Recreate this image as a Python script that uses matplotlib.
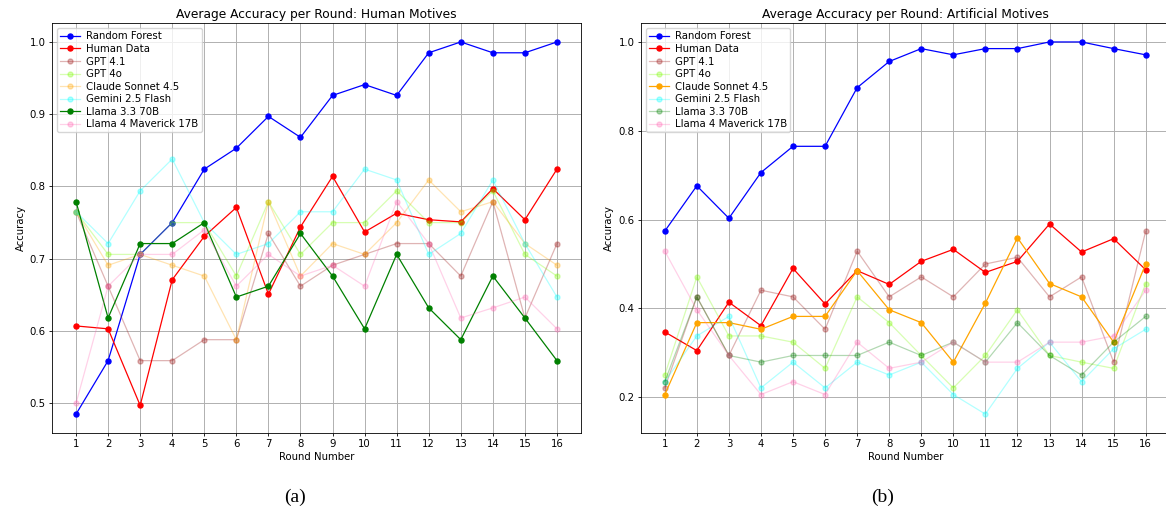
import matplotlib
matplotlib.use("Agg")

import matplotlib.pyplot as plt


# =====================================================
# DATA
# =====================================================

rounds = list(range(1, 17))

model_names = [
    "Random Forest",
    "Human Data",
    "GPT 4.1",
    "GPT 4o",
    "Claude Sonnet 4.5",
    "Gemini 2.5 Flash",
    "Llama 3.3 70B",
    "Llama 4 Maverick 17B",
]

# human motives
human_rf = [0.485, 0.559, 0.706, 0.750, 0.824, 0.853, 0.897, 0.868,
            0.926, 0.941, 0.926, 0.985, 1.000, 0.985, 0.985, 1.000]
human_data = [0.607, 0.603, 0.497, 0.671, 0.731, 0.771, 0.651, 0.744,
              0.814, 0.737, 0.763, 0.754, 0.751, 0.797, 0.754, 0.824]
human_gpt41 = [0.765, 0.662, 0.559, 0.559, 0.588, 0.588, 0.735, 0.662,
               0.691, 0.706, 0.721, 0.721, 0.676, 0.779, 0.618, 0.721]
human_gpt4o = [0.765, 0.706, 0.706, 0.750, 0.750, 0.676, 0.779, 0.706,
               0.750, 0.750, 0.794, 0.750, 0.750, 0.794, 0.706, 0.676]
human_claude = [0.765, 0.691, 0.706, 0.691, 0.676, 0.588, 0.779, 0.676,
                0.721, 0.706, 0.750, 0.809, 0.765, 0.779, 0.721, 0.691]
human_gemini = [0.765, 0.721, 0.794, 0.838, 0.750, 0.706, 0.721, 0.765,
                0.765, 0.824, 0.809, 0.706, 0.735, 0.809, 0.721, 0.647]
human_llama33 = [0.779, 0.618, 0.721, 0.721, 0.750, 0.647, 0.662, 0.735,
                 0.676, 0.603, 0.706, 0.632, 0.588, 0.676, 0.618, 0.559]
human_llama4 = [0.500, 0.662, 0.706, 0.706, 0.740, 0.662, 0.706, 0.676,
                0.691, 0.662, 0.779, 0.721, 0.618, 0.632, 0.647, 0.603]

# artificial motives
art_rf = [0.574, 0.676, 0.603, 0.706, 0.765, 0.765, 0.897, 0.956,
          0.985, 0.971, 0.985, 0.985, 1.000, 1.000, 0.985, 0.971]
art_data = [0.347, 0.305, 0.414, 0.361, 0.490, 0.410, 0.485, 0.454,
            0.506, 0.533, 0.481, 0.506, 0.590, 0.527, 0.557, 0.487]
art_gpt41 = [0.221, 0.426, 0.294, 0.441, 0.426, 0.353, 0.529, 0.426,
             0.471, 0.426, 0.500, 0.515, 0.426, 0.471, 0.279, 0.574]
art_gpt4o = [0.250, 0.471, 0.338, 0.338, 0.324, 0.265, 0.426, 0.368,
             0.294, 0.221, 0.294, 0.397, 0.294, 0.279, 0.265, 0.456]
art_claude = [0.206, 0.368, 0.368, 0.353, 0.382, 0.382, 0.485, 0.397,
              0.368, 0.279, 0.412, 0.559, 0.456, 0.426, 0.324, 0.500]
art_gemini = [0.235, 0.338, 0.382, 0.221, 0.279, 0.221, 0.279, 0.250,
              0.279, 0.206, 0.162, 0.265, 0.324, 0.235, 0.309, 0.353]
art_llama33 = [0.235, 0.426, 0.294, 0.279, 0.294, 0.294, 0.294, 0.324,
               0.294, 0.324, 0.279, 0.368, 0.294, 0.250, 0.324, 0.382]
art_llama4 = [0.529, 0.397, 0.294, 0.206, 0.235, 0.206, 0.324, 0.265,
              0.279, 0.324, 0.279, 0.279, 0.324, 0.324, 0.338, 0.441]

colors = ["blue", "red", "brown", "lawngreen",
          "orange", "cyan", "green", "hotpink"]

# which series are drawn solid in each panel
human_solid = ["Random Forest", "Human Data", "Llama 3.3 70B"]
art_solid = ["Random Forest", "Human Data", "Claude Sonnet 4.5"]


# =====================================================
# FIGURE
# =====================================================

fig = plt.figure(figsize=(11.66, 5.13), dpi=100)

ax_left = fig.add_axes([0.0446, 0.1565, 0.4537, 0.798])
ax_right = fig.add_axes([0.5495, 0.1565, 0.4537, 0.798])


def draw_panel(ax, series, solid, title):

    for name, values, color in zip(model_names, series, colors):

        if name in solid:
            alpha = 1.0
        elif name == "GPT 4.1":
            alpha = 0.35
        else:
            alpha = 0.3

        ax.plot(
            rounds,
            values,
            marker="o",
            markersize=3.6,
            linewidth=0.9,
            color=color,
            alpha=alpha,
            label=name
        )

    ax.set_title(title, fontsize=8.8, pad=4)
    ax.set_xlabel("Round Number", fontsize=7.3, labelpad=2)
    ax.set_ylabel("Accuracy", fontsize=7.3, labelpad=3)
    ax.set_xticks(rounds)
    ax.tick_params(labelsize=7.3, width=0.6, length=2.5, pad=2)
    ax.grid(True, color="#b0b0b0", linewidth=0.7)

    for spine in ax.spines.values():
        spine.set_linewidth(0.6)

    ax.legend(loc="upper left", fontsize=7.3, borderpad=0.3,
              labelspacing=0.25, handlelength=2.0, handletextpad=0.6,
              framealpha=0.8)


draw_panel(
    ax_left,
    [human_rf, human_data, human_gpt41, human_gpt4o,
     human_claude, human_gemini, human_llama33, human_llama4],
    human_solid,
    "Average Accuracy per Round: Human Motives"
)

draw_panel(
    ax_right,
    [art_rf, art_data, art_gpt41, art_gpt4o,
     art_claude, art_gemini, art_llama33, art_llama4],
    art_solid,
    "Average Accuracy per Round: Artificial Motives"
)


# =====================================================
# CAPTIONS
# =====================================================

fig.text(295 / 1166, 1 - 497 / 513, "(a)", ha="center", va="center",
         fontsize=14, family="Liberation Serif")

fig.text(883 / 1166, 1 - 497 / 513, "(b)", ha="center", va="center",
         fontsize=14, family="Liberation Serif")

fig.savefig("out.png", dpi=100)
